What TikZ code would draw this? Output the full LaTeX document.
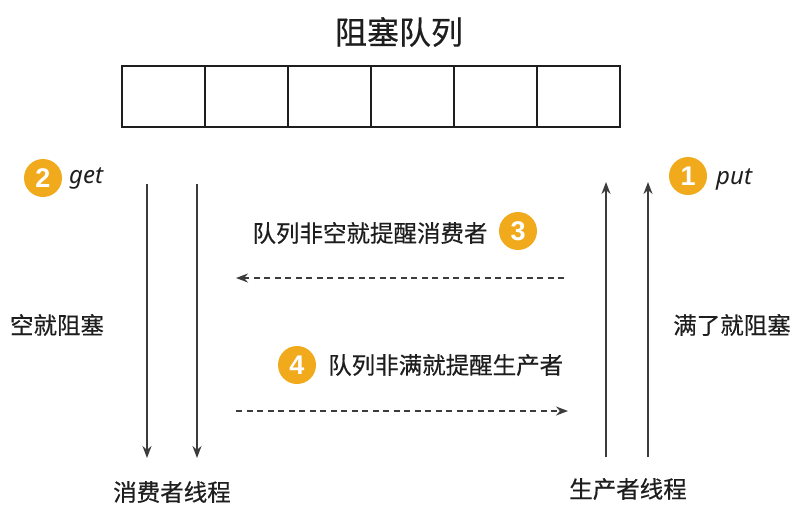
\documentclass[tikz,border=0pt]{standalone}
\usepackage{fontspec}
\setmainfont{Noto Sans}
\newfontfamily\cjk{Noto Sans CJK SC}[FakeBold=0.4]
\newfontfamily\digitfont{Liberation Sans}
\usetikzlibrary{arrows.meta}
\definecolor{badge}{HTML}{F0AA1C}
\definecolor{ink}{HTML}{1E1E1E}
\definecolor{arr}{HTML}{3C3C3C}
\tikzset{
  cell/.style={draw=ink,line width=1.8pt,minimum width=83pt,minimum height=61pt,inner sep=0pt,outer sep=0pt},
  lbl/.style={text=ink,font=\cjk\fontsize{23.5}{28}\selectfont,inner sep=0pt},
  bignum/.style={circle,fill=badge,minimum size=38pt,inner sep=0pt,text=white,font=\digitfont\bfseries\fontsize{27}{30}\selectfont},
  op/.style={text=ink,font=\itshape\fontsize{24}{28}\selectfont,inner sep=0pt,anchor=west},
  solidarr/.style={draw=arr,line width=1.6pt,-{Stealth[length=12pt,width=9pt]}},
  dasharr/.style={draw=arr,line width=1.6pt,dash pattern=on 6pt off 4.5pt,-{Stealth[length=12pt,width=9pt]}}
}
\begin{document}
\begin{tikzpicture}[x=1pt,y=-1pt]
\useasboundingbox[fill=white] (0,0) rectangle (802,517);
\node[lbl,font=\cjk\fontsize{32}{36}\selectfont] (title) at (399,32) {阻塞队列};
\foreach \i in {0,...,5}{
  \node[cell] (c\i) at ({122+41.5+83*\i},96.5) {};
}
% badges
\node[bignum] (b2) at (43,178) {2};
\node[op] (get) at (69,178) {get};
\node[bignum] (b1) at (688,176) {1};
\node[op] (put) at (716,179) {put};
% consumer arrows
\coordinate (ca1) at (147,184);
\coordinate (ca2) at (147,458);
\coordinate (cb1) at (197,184);
\coordinate (cb2) at (197,458);
\draw[solidarr] (ca1) -- (ca2);
\draw[solidarr] (cb1) -- (cb2);
% producer arrows
\coordinate (pa1) at (606,457);
\coordinate (pa2) at (606,182);
\coordinate (pb1) at (648,457);
\coordinate (pb2) at (648,182);
\draw[solidarr] (pa1) -- (pa2);
\draw[solidarr] (pb1) -- (pb2);
% labels
\node[lbl] (l3) at (370,233) {队列非空就提醒消费者};
\node[bignum] (b3) at (518,231) {3};
\coordinate (d1s) at (564,278);
\coordinate (d1e) at (236,278);
\draw[dasharr] (d1s) -- (d1e);
\node[bignum] (b4) at (297,365) {4};
\node[lbl,anchor=west] (l4) at (328,365) {队列非满就提醒生产者};
\coordinate (d2s) at (236,411);
\coordinate (d2e) at (568,411);
\draw[dasharr] (d2s) -- (d2e);
\node[lbl] (empty) at (57,325) {空就阻塞};
\node[lbl] (full) at (732,325) {满了就阻塞};
\node[lbl] (cons) at (172,492) {消费者线程};
\node[lbl] (prod) at (628,489) {生产者线程};
\end{tikzpicture}
\end{document}
